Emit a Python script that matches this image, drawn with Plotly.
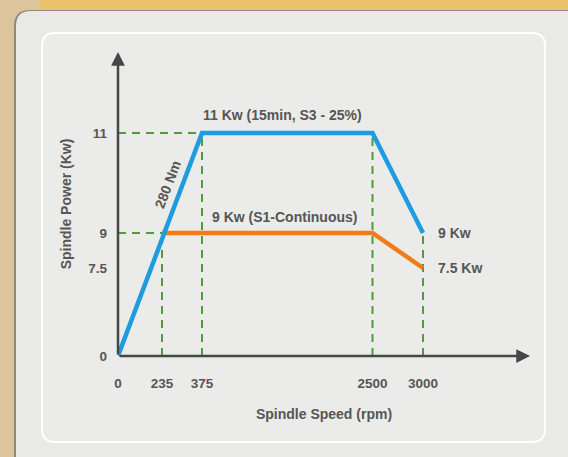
import numpy as np
import plotly.graph_objects as go

# ---------------- data ----------------
speed_ticks = [0, 235, 375, 2500, 3000]          # rpm tick values
power_ticks = [0, 7.5, 9, 11]                    # Kw tick values

s3_speed = [0, 375, 2500, 3000]                  # 11 Kw (15min, S3 - 25%)
s3_power = [0, 11, 11, 9]
s1_speed = [235, 2500, 3000]                     # 9 Kw (S1-Continuous)
s1_power = [9, 9, 7.5]

# ---------------- broken (piecewise) axis scales ----------------
# relative spacing of the tick marks along each axis (layout of the scale)
X_SCALE = [0, 44, 84, 254.5, 305]
Y_SCALE = [0, 88, 123, 223]
XR, YR = 412, 304


def sx(v):
    return np.interp(v, speed_ticks, X_SCALE)


def sy(v):
    return np.interp(v, power_ticks, Y_SCALE)


W, H = 568, 457
ML, MT = 118, 52
MR = W - ML - XR
MB = H - MT - YR

FONT = "Liberation Sans, Arial, sans-serif"
TXT = "#565656"
GREEN = "#4f9c3c"
BLUE = "#1f9be0"
ORANGE = "#f07d18"
AX = "#474747"

fig = go.Figure()

# guide lines (dashed green)
guides = [
    ([0, 375], [11, 11]),
    ([0, 235], [9, 9]),
    ([235, 235], [0, 9]),
    ([375, 375], [0, 11]),
    ([2500, 2500], [0, 11]),
    ([3000, 3000], [0, 9]),
]
for gx, gy in guides:
    fig.add_trace(go.Scatter(x=sx(gx), y=sy(gy), mode="lines",
                             line=dict(color=GREEN, width=2, dash="8px,6px"),
                             hoverinfo="skip", showlegend=False))

fig.add_trace(go.Scatter(x=sx(s1_speed), y=sy(s1_power), mode="lines",
                         line=dict(color=ORANGE, width=4.5), showlegend=False,
                         name="S1"))
fig.add_trace(go.Scatter(x=sx(s3_speed), y=sy(s3_power), mode="lines",
                         line=dict(color=BLUE, width=4.5), showlegend=False,
                         name="S3"))


# ---------------- background panels ----------------
def px2paper(px, py):
    return (px - ML) / XR, (H - MB - py) / YR


def rrect(x0, y0, x1, y1, r):
    def P(x, y):
        a, b = px2paper(x, y)
        return f"{a:.5f},{b:.5f}"
    path = (f"M{P(x0 + r, y0)} L{P(x1 - r, y0)} Q{P(x1, y0)} {P(x1, y0 + r)} "
            f"L{P(x1, y1 - r)} Q{P(x1, y1)} {P(x1 - r, y1)} "
            f"L{P(x0 + r, y1)} Q{P(x0, y1)} {P(x0, y1 - r)} "
            f"L{P(x0, y0 + r)} Q{P(x0, y0)} {P(x0 + r, y0)} Z")
    return path


shapes = []
# top warm strip
shapes.append(dict(type="rect", xref="paper", yref="paper",
                   x0=px2paper(40, 0)[0], x1=px2paper(568, 0)[0],
                   y0=px2paper(0, 0)[1], y1=px2paper(0, 14)[1],
                   fillcolor="#ecc36c", line_width=0, layer="below"))
# outer panel shadow
shapes.append(dict(type="path", xref="paper", yref="paper",
                   path=rrect(14, 10, 590, 480, 16),
                   fillcolor="#8c8a80", line_width=0, layer="below"))
shapes.append(dict(type="path", xref="paper", yref="paper",
                   path=rrect(16, 11, 590, 480, 15),
                   fillcolor="#e9eae6", line_width=0, layer="below"))
# inner panel
shapes.append(dict(type="path", xref="paper", yref="paper",
                   path=rrect(42, 33, 545, 442, 13),
                   fillcolor="#ebebe9", line=dict(color="#ffffff", width=2),
                   layer="below"))

annotations = []
# axes with arrow heads
annotations.append(dict(x=XR, y=0, ax=0, ay=0, xref="x", yref="y", axref="x", ayref="y",
                        text="", showarrow=True, arrowhead=2, arrowsize=1.1,
                        arrowwidth=2.5, arrowcolor=AX))
annotations.append(dict(x=0, y=YR, ax=0, ay=0, xref="x", yref="y", axref="x", ayref="y",
                        text="", showarrow=True, arrowhead=2, arrowsize=1.1,
                        arrowwidth=2.5, arrowcolor=AX))

lab_font = dict(family=FONT, size=14, color=TXT, weight="bold")
tick_font = dict(family=FONT, size=13.5, color=TXT, weight="bold")
annotations += [
    dict(x=float(sx(1440)) - 5, y=float(sy(11)) + 18, text="11 Kw (15min, S3 - 25%)",
         showarrow=False, font=lab_font, xref="x", yref="y"),
    dict(x=float(sx(1450)) - 4, y=float(sy(9)) + 16, text="9 Kw (S1-Continuous)",
         showarrow=False, font=lab_font, xref="x", yref="y"),
    dict(x=float(sx(3000)) + 13, y=float(sy(9)), text="9 Kw", xanchor="left",
         showarrow=False, font=lab_font, xref="x", yref="y"),
    dict(x=float(sx(3000)) + 13, y=float(sy(7.5)), text="7.5 Kw", xanchor="left",
         showarrow=False, font=lab_font, xref="x", yref="y"),
    dict(x=float(sx(150)) + 22, y=float(sy(8.6)) + 58, text="280 Nm", textangle=-69,
         showarrow=False, font=lab_font, xref="x", yref="y"),
]

fig.update_layout(
    width=W, height=H,
    margin=dict(l=ML, r=MR, t=MT, b=MB, autoexpand=False),
    paper_bgcolor="#dcc59c",
    plot_bgcolor="rgba(0,0,0,0)",
    shapes=shapes,
    annotations=annotations,
    xaxis=dict(range=[0, XR], tickvals=sx(speed_ticks).tolist(),
               ticktext=[str(v) for v in speed_ticks], showgrid=False, zeroline=False,
               showline=False, ticks="", tickfont=tick_font, ticklabelstandoff=17,
               title=dict(text="Spindle Speed (rpm)", font=lab_font, standoff=19),
               fixedrange=True),
    yaxis=dict(range=[0, YR], tickvals=sy(power_ticks).tolist(),
               ticktext=[("%g" % v) for v in power_ticks], showgrid=False, zeroline=False,
               showline=False, ticks="", tickfont=tick_font, ticklabelstandoff=10,
               title=dict(text="Spindle Power (Kw)", font=lab_font, standoff=13),
               fixedrange=True),
)

fig.write_html("out.html", config={"displayModeBar": False},
               post_script="document.body.style.margin='0';document.body.style.overflow='hidden';")
